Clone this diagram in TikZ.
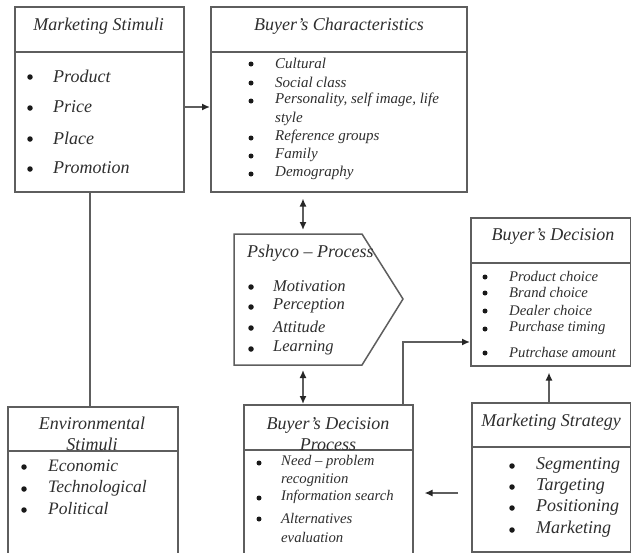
\documentclass[tikz,border=0pt]{standalone}
\usepackage{fontspec}
\setmainfont{Liberation Serif}
\usetikzlibrary{arrows.meta}
\definecolor{linec}{HTML}{5E5E5E}
\definecolor{textc}{HTML}{2E2E2E}
\tikzset{
  box/.style={draw=linec, line width=1.5pt, anchor=north west, inner sep=0pt},
  divider/.style={draw=linec, line width=1.5pt},
  conn/.style={draw=linec, line width=1.5pt},
  tip/.tip={Latex[length=8pt,width=7pt,color=black!85]},
  arr/.style={conn, -tip},
  darr/.style={conn, tip-tip},
  ttl/.style={text=textc, font=\itshape\fontsize{18}{20.5}\selectfont, inner sep=0pt, align=center},
  itm/.style={text=textc, anchor=west, inner sep=0pt},
  bul/.style={circle, fill=black!90, inner sep=0pt, minimum size=\bulsize},
  fA/.style={font=\itshape\fontsize{18}{20}\selectfont},
  fB/.style={font=\itshape\fontsize{15}{17}\selectfont},
  fC/.style={font=\itshape\fontsize{16.5}{18}\selectfont},
  fD/.style={font=\itshape\fontsize{14.7}{17}\selectfont},
  fE/.style={font=\itshape\fontsize{17.5}{20}\selectfont},
}
\newcommand\bulsize{5.5pt}
% bullet item: name, bullet x, text x, y, text
\newcommand\bitem[5]{%
  \node[bul] (#1b) at (#2,#4+1) {};
  \node[itm] (#1) at (#3,#4) {#5};}
\begin{document}
\begin{tikzpicture}[x=1pt,y=-1pt]
\useasboundingbox (0,0) rectangle (631,552);

% Marketing Stimuli
\node[box, minimum width=169pt, minimum height=185pt] (ms) at (14,6) {};
\coordinate (msd) at (0,52);
\draw[divider] (ms.west |- msd) -- (ms.east |- msd);
\node[ttl] (mst) at (98.5,26) {Marketing Stimuli};
\begin{scope}[fA]
\bitem{ms1}{30}{53}{76}{Product}
\bitem{ms2}{30}{53}{107}{Price}
\bitem{ms3}{30}{53}{138}{Place}
\bitem{ms4}{30}{53}{168}{Promotion}
\end{scope}

% Buyer's Characteristics
\node[box, minimum width=256pt, minimum height=185pt] (bc) at (210,6) {};
\draw[divider] (bc.west |- msd) -- (bc.east |- msd);
\node[ttl] (bct) at (339,26) {Buyer’s Characteristics};
\renewcommand\bulsize{5pt}
\begin{scope}[fB]
\bitem{bc1}{251}{275}{63}{Cultural}
\bitem{bc2}{251}{275}{82}{Social class}
\bitem{bc3}{251}{275}{100}{Personality, self image, life}
\node[itm] (bc3b2) at (275,119) {style};
\bitem{bc4}{251}{275}{137}{Reference groups}
\bitem{bc5}{251}{275}{155}{Family}
\bitem{bc6}{251}{275}{173}{Demography}
\end{scope}

% Pshyco - Process
\draw[conn] (234,234) coordinate (psnw) -- (362,234) -- (403,299) coordinate (psr)
  -- (362,365) -- (234,365) coordinate (pssw) -- cycle;
\coordinate (pstop) at (303,234);
\coordinate (psbot) at (303,365);
\node[ttl, anchor=west] (pst) at (247,253) {Pshyco – Process};
\renewcommand\bulsize{5.5pt}
\begin{scope}[fC]
\bitem{ps1}{251}{273}{286}{Motivation}
\bitem{ps2}{251}{273}{306}{Perception}
\bitem{ps3}{251}{273}{327}{Attitude}
\bitem{ps4}{251}{273}{348}{Learning}
\end{scope}

% Buyer's Decision
\node[box, minimum width=160pt, minimum height=148pt] (bd) at (470,217) {};
\coordinate (bdd) at (0,263);
\draw[divider] (bd.west |- bdd) -- (bd.east |- bdd);
\node[ttl] (bdt) at (553,236) {Buyer’s Decision};
\renewcommand\bulsize{5pt}
\begin{scope}[fD]
\bitem{bd1}{485}{509}{276}{Product choice}
\bitem{bd2}{485}{509}{292}{Brand choice}
\bitem{bd3}{485}{509}{310}{Dealer choice}
\bitem{bd4}{485}{509}{328}{Purchase timing}
\bitem{bd5}{485}{509}{352}{Putrchase amount}
\end{scope}

% Environmental Stimuli
\node[box, minimum width=170pt, minimum height=152pt] (env) at (7,406) {};
\coordinate (envd) at (0,451);
\draw[divider] (env.west |- envd) -- (env.east |- envd);
\node[ttl] (envt) at (92,434) {Environmental\\Stimuli};
\renewcommand\bulsize{5.5pt}
\begin{scope}[fE]
\bitem{en1}{24}{48}{466}{Economic}
\bitem{en2}{24}{48}{488}{Technological}
\bitem{en3}{24}{48}{509}{Political}
\end{scope}

% Buyer's Decision Process
\node[box, minimum width=169pt, minimum height=154pt] (bdp) at (243,404) {};
\coordinate (bdpd) at (0,450);
\draw[divider] (bdp.west |- bdpd) -- (bdp.east |- bdpd);
\node[ttl] (bdpt) at (328,434) {Buyer’s Decision\\Process};
\renewcommand\bulsize{5pt}
\begin{scope}[fD]
\bitem{dp1}{259}{281}{462}{Need – problem}
\node[itm] (dp1b2) at (281,480) {recognition};
\bitem{dp2}{259}{281}{497}{Information search}
\bitem{dp3}{259}{281}{518}{Alternatives}
\node[itm] (dp3b2) at (281,537) {evaluation};
\end{scope}

% Marketing Strategy
\node[box, minimum width=159pt, minimum height=149pt] (mkt) at (471,402) {};
\coordinate (mktd) at (0,447);
\draw[divider] (mkt.west |- mktd) -- (mkt.east |- mktd);
\node[ttl] (mktt) at (551,422) {Marketing Strategy};
\renewcommand\bulsize{5.5pt}
\begin{scope}[fA]
\bitem{mk1}{512}{536}{465}{Segmenting}
\bitem{mk2}{512}{536}{486}{Targeting}
\bitem{mk3}{512}{536}{507}{Positioning}
\bitem{mk4}{512}{536}{529}{Marketing}
\end{scope}

% connectors
\coordinate (y107) at (0,107);
\draw[arr] (ms.east |- y107) -- (bc.west |- y107);
\draw[darr, shorten <=6pt, shorten >=4pt] (bc.south -| pstop) -- (pstop);
\draw[darr, shorten <=5pt] (psbot) -- (bdp.north -| psbot);
\coordinate (x90) at (90,0);
\draw[conn] (ms.south -| x90) -- (env.north -| x90);
\coordinate (bend) at (403,342);
\draw[arr] (bdp.north -| bend) |- (bd.west |- bend);
\coordinate (x549) at (549,0);
\draw[arr, shorten >=6pt] (mkt.north -| x549) -- (bd.south -| x549);
\coordinate (y493) at (0,493);
\draw[arr, shorten <=13pt, shorten >=11pt] (mkt.west |- y493) -- (bdp.east |- y493);
\end{tikzpicture}
\end{document}
